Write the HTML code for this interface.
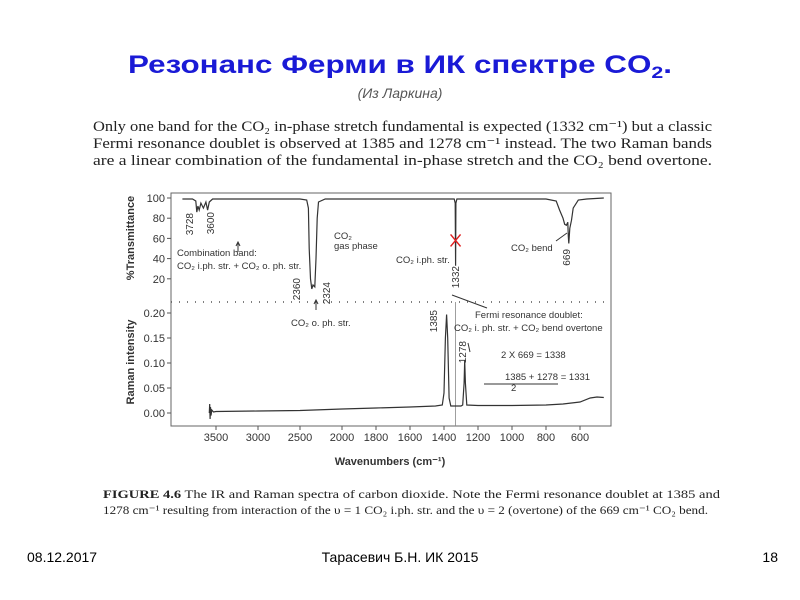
<!DOCTYPE html>
<html><head><meta charset="utf-8"><style>
body{margin:0;background:#fff;width:800px;height:600px;overflow:hidden}
svg{display:block}
.s{font-family:"Liberation Sans",sans-serif}
.r{font-family:"Liberation Serif",serif}
</style></head><body>
<svg id="svg" width="800" height="600" xmlns="http://www.w3.org/2000/svg">
<text class="s" x="128" y="73" font-size="25" font-weight="bold" fill="#1a1ad6" textLength="544" lengthAdjust="spacingAndGlyphs">Резонанс Ферми  в ИК спектре CO<tspan font-size="17" dy="5">2</tspan><tspan dy="-5">.</tspan></text>
<text class="s" x="400" y="98" font-size="14" font-style="italic" fill="#555" text-anchor="middle">(Из Ларкина)</text>
<g class="r" font-size="15" fill="#222">
<text x="93" y="131" textLength="619" lengthAdjust="spacingAndGlyphs">Only one band for the CO₂ in-phase stretch fundamental is expected (1332 cm⁻¹) but a classic</text>
<text x="93" y="148" textLength="619" lengthAdjust="spacingAndGlyphs">Fermi resonance doublet is observed at 1385 and 1278 cm⁻¹ instead. The two Raman bands</text>
<text x="93" y="165" textLength="619" lengthAdjust="spacingAndGlyphs">are a linear combination of the fundamental in-phase stretch and the CO₂ bend overtone.</text>
</g>
<g class="r" font-size="12" fill="#222">
<text x="103" y="498" textLength="617" lengthAdjust="spacingAndGlyphs"><tspan font-weight="bold">FIGURE 4.6</tspan>   The IR and Raman spectra of carbon dioxide. Note the Fermi resonance doublet at 1385 and</text>
<text x="103" y="514" textLength="605" lengthAdjust="spacingAndGlyphs">1278 cm⁻¹ resulting from interaction of the υ = 1 CO₂ i.ph. str. and the υ = 2 (overtone) of the 669 cm⁻¹ CO₂ bend.</text>
</g>
<g class="s" font-size="14" fill="#000">
<text x="27" y="562">08.12.2017</text>
<text x="400" y="562" text-anchor="middle">Тарасевич Б.Н.  ИК 2015</text>
<text x="778" y="562" text-anchor="end">18</text>
</g>
<g id="chart" class="s"></g>
</svg>
<script>
const xTicks=[3500,3000,2500,2000,1800,1600,1400,1200,1000,800,600];
const irTicks=[100,80,60,40,20];
const ramanTicks=[0.20,0.15,0.10,0.05,0.00];
const irWave=[3900,3780,3740,3728,3715,3700,3680,3650,3620,3600,3580,3540,3400,2500,2420,2400,2390,2375,2360,2345,2324,2310,2295,2280,2200,1400,1340,1334,1332,1330,1324,1200,800,740,720,700,690,680,672,669,666,660,650,640,610,560,460];
const irVals=[99,99,97,86,92,88,95,90,96,88,96,99,99,99,98,90,50,20,10,14,12,40,80,96,99,99,99,95,33,95,99,99,99,97,88,80,74,73,76,62,55,70,78,90,98,99,100];
const ramanWave=[3580,3575,3570,3565,3560,3550,3530,3500,3000,2500,2000,1800,1600,1450,1410,1400,1392,1385,1378,1370,1360,1300,1290,1282,1278,1274,1266,1200,1000,800,700,600,540,500,460];
const ramanVals=[0,0.018,-0.012,0.012,-0.005,0.006,0.002,0.003,0.004,0.005,0.008,0.01,0.012,0.014,0.016,0.04,0.15,0.197,0.15,0.03,0.014,0.014,0.016,0.06,0.105,0.06,0.016,0.015,0.015,0.016,0.018,0.022,0.03,0.032,0.031];
const NS="http://www.w3.org/2000/svg";
const chart=document.getElementById('chart');
function xs(w){return w<=2000?342+(2000-w)*0.17:342-(w-2000)*0.084;}
function yIR(t){return 198+(100-t)*1.01;}
function yR(v){return 413-v*500;}
function mk(tag,attrs,text){const e=document.createElementNS(NS,tag);for(const k in attrs)e.setAttribute(k,attrs[k]);if(text!==undefined)e.textContent=text;chart.appendChild(e);return e;}
const L=171,R=611;
let e=mk('rect',{x:L,y:193,width:R-L,height:233,fill:'none',stroke:'#666','stroke-width':1});


e=mk('line',{x1:L,x2:R,y1:302,y2:302,stroke:'#555','stroke-dasharray':'1 7','stroke-width':1.5});


irTicks.forEach(t=>{
 const y=yIR(t);
 e=mk('line',{x1:L-4,x2:L,y1:y,y2:y,stroke:'#555'});
 
 
 e=mk('text',{x:L-6,y:y+4,'font-size':11,'text-anchor':'end',fill:'#333'},String(t));
 
 
});
ramanTicks.forEach(t=>{
 const y=yR(t);
 e=mk('line',{x1:L-4,x2:L,y1:y,y2:y,stroke:'#555'});
 
 
 e=mk('text',{x:L-6,y:y+4,'font-size':11,'text-anchor':'end',fill:'#333'},t.toFixed(2));
 
 
});
xTicks.forEach(t=>{
 const x=xs(t);
 e=mk('line',{x1:x,x2:x,y1:426,y2:430,stroke:'#555'});
 
 
 e=mk('text',{x:x,y:441,'font-size':11,'text-anchor':'middle',fill:'#333'},String(t));
 
 
});
e=mk('text',{x:390,y:465,'font-size':11,'font-weight':'bold','text-anchor':'middle',fill:'#333'},'Wavenumbers (cm⁻¹)');


e=mk('text',{x:0,y:0,'font-size':11,'font-weight':'bold','text-anchor':'middle',fill:'#333',transform:'translate(134,238) rotate(-90)'},'%Transmittance');


e=mk('text',{x:0,y:0,'font-size':11,'font-weight':'bold','text-anchor':'middle',fill:'#333',transform:'translate(134,362) rotate(-90)'},'Raman intensity');


e=mk('line',{x1:xs(1332),x2:xs(1332),y1:302,y2:426,stroke:'#888','stroke-width':0.8});


e=mk('path',{d:irWave.map((w,i)=>(i?'L':'M')+xs(w).toFixed(1)+','+yIR(irVals[i]).toFixed(1)).join(''),fill:'none',stroke:'#333','stroke-width':1.2});


e=mk('path',{d:ramanWave.map((w,i)=>(i?'L':'M')+xs(w).toFixed(1)+','+yR(ramanVals[i]).toFixed(1)).join(''),fill:'none',stroke:'#333','stroke-width':1.2});


const cx=xs(1332),cy=yIR(58);
e=mk('path',{d:`M${cx-5},${cy-6}L${cx+5},${cy+6}M${cx+5},${cy-6}L${cx-5},${cy+6}`,stroke:'#e02020','stroke-width':1.5});


const ann=[
['3728',193,213,true],['3600',214,212,true],['2360',300,278,true],['2324',330,282,true],['1332',459,266,true],['669',570,249,true],['1385',437,310,true],['1278',466,341,true],
['CO₂',334,239,false],['gas phase',334,249,false],['Combination band:',177,256,false],['CO₂ i.ph. str. + CO₂ o. ph. str.',177,269,false],
['CO₂ i.ph. str.',396,263,false],['CO₂ bend',511,251,false],['CO₂ o. ph. str.',291,326,false],['Fermi resonance doublet:',475,318,false],
['CO₂ i. ph. str. + CO₂ bend overtone',454,331,false],['2 X 669 = 1338',501,358,false],['1385 + 1278 = 1331',505,380,false],['2',511,391,false]];
ann.forEach(a=>{
 e=a[3]?mk('text',{x:0,y:0,'font-size':10,fill:'#333','text-anchor':'end',transform:`translate(${a[1]},${a[2]}) rotate(-90)`},a[0]):mk('text',{x:a[1],y:a[2],'font-size':9.5,fill:'#333'},a[0]);
 
 
});
e=mk('path',{d:'M238,252V243M236,246L238,242L240,246M316,310V300M314,304L316,300L318,304M487,308L452,295M567,233L556,241M468,343L470,352M484,384H558',fill:'none',stroke:'#333','stroke-width':1});


</script>
</body></html>
